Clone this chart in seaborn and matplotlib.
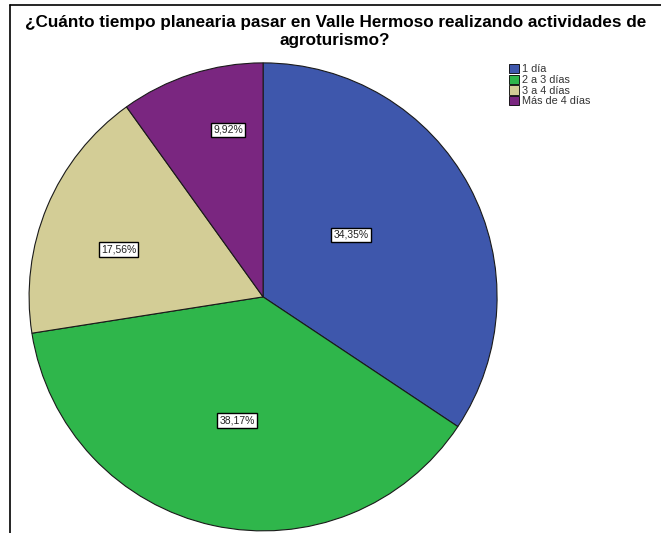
import numpy as np
import matplotlib
matplotlib.use("Agg")
import matplotlib.pyplot as plt
import seaborn as sns
from matplotlib.lines import Line2D

sns.set_theme(style="white")
plt.rcParams["font.family"] = ["Liberation Sans", "DejaVu Sans"]

# data
categories = ["1 día", "2 a 3 días", "3 a 4 días", "Más de 4 días"]
percent = [34.35, 38.17, 17.56, 9.92]
labels = ["34,35%", "38,17%", "17,56%", "9,92%"]
colors = ["#3E57AC", "#2FB64B", "#D3CD96", "#7A2680"]
# SPSS-like label placement: (radius fraction, angle shift in degrees)
label_radius = [0.46, 0.54, 0.65, 0.73]
label_shift = [7, 0.5, 4.5, -6]

fig = plt.figure(figsize=(6.61, 5.33), dpi=100)
ax = fig.add_axes([0.044, 0.004, 0.708, 0.878])

wedges, _ = ax.pie(percent, colors=colors, startangle=90, counterclock=False,
                   wedgeprops=dict(edgecolor="#1a1a1a", linewidth=0.8))
ax.set_xlim(-1, 1)
ax.set_ylim(-1, 1)
ax.set_aspect("equal")
ax.axis("off")

for w, lab, r, s in zip(wedges, labels, label_radius, label_shift):
    ang = np.deg2rad((w.theta1 + w.theta2) / 2 + s)
    ax.text(r * np.cos(ang), r * np.sin(ang), lab, ha="center", va="center",
            fontsize=7.5, color="#222222",
            bbox=dict(boxstyle="square,pad=0.2", fc="white", ec="black", lw=1.0))

fig.text(0.507, 0.958, "¿Cuánto tiempo planearia pasar en Valle Hermoso realizando actividades de",
         ha="center", va="center", fontsize=12.3, fontweight="bold", color="black")
fig.text(0.507, 0.924, "agroturismo?", ha="center", va="center", fontsize=12.3,
         fontweight="bold", color="black")

handles = [plt.Rectangle((0, 0), 1, 1, fc=c, ec="black", lw=0.6) for c in colors]
fig.legend(handles, categories, loc="upper left", bbox_to_anchor=(0.762, 0.89),
           frameon=False, fontsize=7.8, handlelength=0.95, handleheight=0.95,
           handletextpad=0.2, labelspacing=0.02, borderpad=0, labelcolor="#333333")

# frame lines of the screenshot
fig.add_artist(Line2D([0.015, 0.015], [0, 0.99], color="black", lw=1.2))
fig.add_artist(Line2D([0.015, 1], [0.99, 0.99], color="black", lw=1.2))

fig.savefig("out.png", dpi=100)
